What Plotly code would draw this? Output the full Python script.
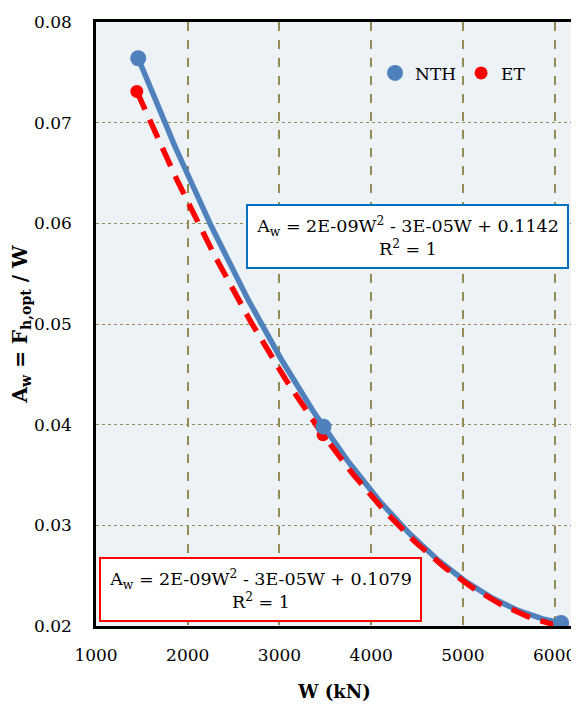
import numpy as np
import plotly.graph_objects as go

# ---- data ----
series_names = ["NTH", "ET"]
w_nth = [1460, 3480, 6070]
a_nth = [0.0764, 0.0398, 0.0203]
w_et = [1445, 3475, 6040]
a_et = [0.0731, 0.0390, 0.0200]
eq_nth = "A<sub>w</sub> = 2E-09W<sup>2</sup> - 3E-05W + 0.1142<br>R<sup>2</sup> = 1"
eq_et = "A<sub>w</sub> = 2E-09W<sup>2</sup> - 3E-05W + 0.1079<br>R<sup>2</sup> = 1"
x_ticks = [1000, 2000, 3000, 4000, 5000, 6000]
y_ticks = [0.02, 0.03, 0.04, 0.05, 0.06, 0.07, 0.08]

BLUE = "#4F81BD"
RED = "#FF0000"
GRID = "#948A54"
FONT = "DejaVu Serif"


def trend(x, y):
    c = np.polyfit(x, y, 2)
    xs = np.linspace(min(x), max(x), 200)
    return xs, np.polyval(c, xs)


fig = go.Figure()

# ET markers (underneath)
fig.add_trace(go.Scatter(x=w_et, y=a_et, mode="markers", name=series_names[1],
                         marker=dict(color=RED, size=13), legendrank=2))
# NTH trendline
xs, ys = trend(w_nth, a_nth)
fig.add_trace(go.Scatter(x=xs, y=ys, mode="lines", showlegend=False,
                         line=dict(color=BLUE, width=5.5), hoverinfo="skip"))
# ET trendline
xs, ys = trend(w_et, a_et)
fig.add_trace(go.Scatter(x=xs, y=ys, mode="lines", showlegend=False,
                         line=dict(color=RED, width=5.5, dash="20px,11px"), hoverinfo="skip"))
# NTH markers
fig.add_trace(go.Scatter(x=w_nth, y=a_nth, mode="markers", name=series_names[0],
                         marker=dict(color=BLUE, size=16), legendrank=1))

fig.add_annotation(text=eq_nth, xref="paper", yref="paper", x=0.653, y=0.6444,
                   xanchor="center", yanchor="middle", showarrow=False,
                   width=315, height=57, borderpad=2, borderwidth=2,
                   bordercolor="#0070C0", bgcolor="white",
                   font=dict(family=FONT, size=17.5, color="black"), align="center")
fig.add_annotation(text=eq_et, xref="paper", yref="paper", x=0.345, y=0.0604,
                   xanchor="center", yanchor="middle", showarrow=False,
                   width=315, height=57, borderpad=2, borderwidth=2,
                   bordercolor=RED, bgcolor="white",
                   font=dict(family=FONT, size=17.5, color="black"), align="center")

fig.update_layout(
    width=571, height=697,
    margin=dict(l=88, r=6, t=14, b=79, autoexpand=False),
    paper_bgcolor="white", plot_bgcolor="#EDF2F7",
    font=dict(family=FONT, size=17, color="black"),
    showlegend=True,
    legend=dict(orientation="h", x=0.585, y=0.915, xanchor="left", yanchor="middle",
                bgcolor="rgba(0,0,0,0)", font=dict(family=FONT, size=17),
                itemwidth=30, tracegroupgap=0),
)
fig.update_xaxes(range=[1000, 6200], tickvals=x_ticks, ticktext=[str(v) for v in x_ticks],
                 showgrid=True, gridcolor=GRID, gridwidth=2, griddash="dash",
                 showline=True, linecolor="black", linewidth=2.5, mirror=True,
                 zeroline=False, ticks="", ticklabelstandoff=12, automargin=False,
                 title=dict(text="<b>W (kN)</b>", font=dict(family=FONT, size=18), standoff=22))
fig.update_yaxes(range=[0.02, 0.08], tickvals=y_ticks, ticktext=[f"{v:.2f}" for v in y_ticks],
                 showgrid=True, gridcolor=GRID, gridwidth=1, griddash="dot",
                 showline=True, linecolor="black", linewidth=2.5, mirror=True,
                 zeroline=False, ticks="", ticklabelstandoff=18, automargin=False,
                 title=dict(text="<b>A<sub>w</sub> = F<sub>h,opt</sub> / W</b>",
                            font=dict(family=FONT, size=20), standoff=10))

fig.write_html("out.html")
